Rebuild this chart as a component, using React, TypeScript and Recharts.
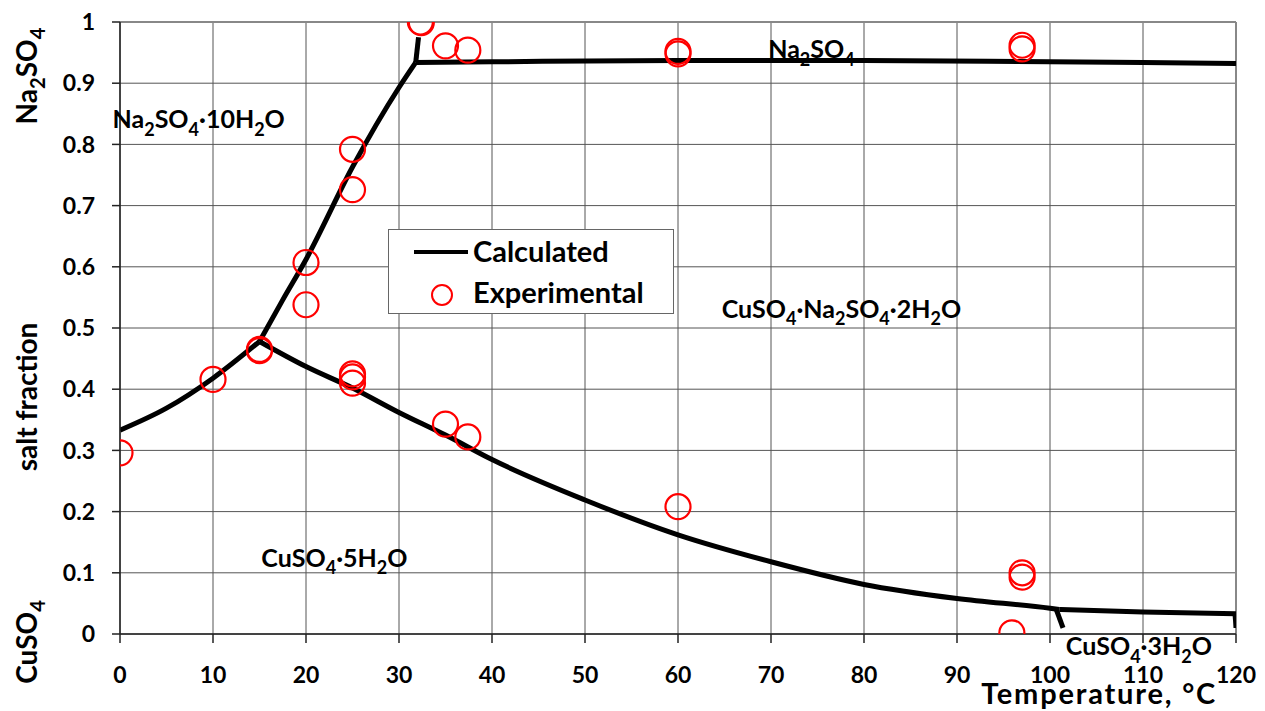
import React from "react";
import {
  CartesianGrid,
  ComposedChart,
  Legend,
  Line,
  ReferenceDot,
  ReferenceLine,
  Scatter,
  XAxis,
  YAxis,
} from "recharts";

const FONT = "Lato, 'Open Sans', sans-serif";
const RED = "#FF0000";

type Pt = { x: number; y: number };

const X_TICKS = [0, 10, 20, 30, 40, 50, 60, 70, 80, 90, 100, 110, 120];
const Y_TICKS = [0, 0.1, 0.2, 0.3, 0.4, 0.5, 0.6, 0.7, 0.8, 0.9, 1];

// calculated phase boundaries
const LOW_BRANCH: Pt[] = [
  { x: 0, y: 0.333 },
  { x: 5, y: 0.369 },
  { x: 10, y: 0.418 },
  { x: 15, y: 0.478 },
];
const DECAHYDRATE_EDGE: Pt[] = [
  { x: 15, y: 0.478 },
  { x: 17.5, y: 0.546 },
  { x: 20, y: 0.612 },
  { x: 25, y: 0.763 },
  { x: 30, y: 0.893 },
  { x: 31.8, y: 0.934 },
];
const DECAHYDRATE_STUB: Pt[] = [
  { x: 31.8, y: 0.934 },
  { x: 32.1, y: 0.975 },
];
const ANHYDROUS_EDGE: Pt[] = [
  { x: 31.8, y: 0.934 },
  { x: 40, y: 0.935 },
  { x: 60, y: 0.937 },
  { x: 80, y: 0.937 },
  { x: 100, y: 0.935 },
  { x: 110, y: 0.934 },
  { x: 120, y: 0.932 },
];
const PENTAHYDRATE_EDGE: Pt[] = [
  { x: 15, y: 0.478 },
  { x: 20, y: 0.437 },
  { x: 25, y: 0.402 },
  { x: 30, y: 0.362 },
  { x: 35, y: 0.325 },
  { x: 40, y: 0.285 },
  { x: 50, y: 0.219 },
  { x: 60, y: 0.162 },
  { x: 70, y: 0.118 },
  { x: 80, y: 0.081 },
  { x: 90, y: 0.058 },
  { x: 100, y: 0.042 },
  { x: 101, y: 0.04 },
];
const TRIHYDRATE_EDGE: Pt[] = [
  { x: 101, y: 0.04 },
  { x: 110, y: 0.036 },
  { x: 120, y: 0.033 },
];
const TRIHYDRATE_STUB: Pt[] = [
  { x: 100.7, y: 0.039 },
  { x: 101.4, y: 0.01 },
];
const RIGHT_STUB: Pt[] = [
  { x: 119.9, y: 0.033 },
  { x: 120, y: 0.01 },
];

// experimental points
const EXPERIMENTAL: Pt[] = [
  { x: 0, y: 0.296 },
  { x: 10, y: 0.416 },
  { x: 15, y: 0.463 },
  { x: 15, y: 0.465 },
  { x: 20, y: 0.607 },
  { x: 20, y: 0.538 },
  { x: 25, y: 0.792 },
  { x: 25, y: 0.726 },
  { x: 25, y: 0.425 },
  { x: 25, y: 0.42 },
  { x: 25, y: 0.41 },
  { x: 35, y: 0.343 },
  { x: 37.4, y: 0.322 },
  { x: 32.3, y: 1.0 },
  { x: 32.4, y: 0.999 },
  { x: 35, y: 0.961 },
  { x: 37.4, y: 0.954 },
  { x: 60, y: 0.952 },
  { x: 60, y: 0.948 },
  { x: 97, y: 0.962 },
  { x: 97, y: 0.956 },
  { x: 60, y: 0.208 },
  { x: 97, y: 0.1 },
  { x: 97, y: 0.093 },
  { x: 95.9, y: 0.002 },
];

const PHASE_LABELS = [
  { x: -0.8, y: 0.826, text: "Na2SO4·10H2O" },
  { x: 69.7, y: 0.941, text: "Na2SO4" },
  { x: 64.7, y: 0.517, text: "CuSO4·Na2SO4·2H2O" },
  { x: 15.2, y: 0.11, text: "CuSO4·5H2O" },
  { x: 101.7, y: -0.035, text: "CuSO4·3H2O" },
];

function chemParts(s: string) {
  const parts: { t: string; sub: boolean }[] = [];
  for (let i = 0; i < s.length; i++) {
    const c = s[i];
    const prev = i > 0 ? s[i - 1] : "";
    const last = parts[parts.length - 1];
    const sub = /\d/.test(c) && (/[A-Za-z]/.test(prev) || (!!last && last.sub));
    if (last && last.sub === sub) last.t += c;
    else parts.push({ t: c, sub });
  }
  return parts;
}

function ChemText({
  x,
  y,
  text,
  size,
  anchor = "start",
  transform,
}: {
  x: number;
  y: number;
  text: string;
  size: number;
  anchor?: "start" | "middle" | "end";
  transform?: string;
}) {
  const shift = size * 0.3;
  let cur = 0;
  return (
    <text
      x={x}
      y={y}
      fontSize={size}
      fontWeight="bold"
      fontFamily={FONT}
      fill="#000"
      textAnchor={anchor}
      transform={transform}
    >
      {chemParts(text).map((p, i) => {
        const target = p.sub ? shift : 0;
        const dy = target - cur;
        cur = target;
        return (
          <tspan key={i} dy={dy} fontSize={p.sub ? size * 0.72 : size}>
            {p.t}
          </tspan>
        );
      })}
    </text>
  );
}

const yTickFmt = (v: number) => (v === 0 ? "0" : v === 1 ? "1" : v.toFixed(1));

function YLabels(props: any) {
  const vb = props.viewBox || { x: 0, y: 22, width: 120, height: 612 };
  const cx = vb.x + 37;
  const rot = (cy: number) => `rotate(-90, ${cx}, ${cy})`;
  const a = vb.y + 54;
  const b = vb.y + 375;
  const c = vb.y + 620;
  return (
    <g>
      <ChemText x={cx} y={a} text="Na2SO4" size={28} anchor="middle" transform={rot(a)} />
      <ChemText x={cx} y={b} text="salt fraction" size={28} anchor="middle" transform={rot(b)} />
      <ChemText x={cx} y={c} text="CuSO4" size={28} anchor="middle" transform={rot(c)} />
    </g>
  );
}

function XLabel(props: any) {
  const vb = props.viewBox || { x: 120, y: 634, width: 1116, height: 77 };
  return (
    <text
      x={vb.x + vb.width - 19}
      y={vb.y + 70}
      textAnchor="end"
      fontSize={29}
      letterSpacing={1.8}
      fontWeight="bold"
      fontFamily={FONT}
      fill="#000"
    >
      Temperature, °C
    </text>
  );
}

function LegendBox() {
  return (
    <div
      style={{
        width: 286,
        height: 85,
        border: "1px solid #666",
        background: "#fff",
        fontFamily: FONT,
        fontWeight: "bold",
        fontSize: 29,
        color: "#000",
        boxSizing: "border-box",
        position: "relative",
      }}
    >
      <div style={{ position: "absolute", left: 25, top: 20, width: 54, height: 4, background: "#000" }} />
      <div style={{ position: "absolute", left: 84, top: 4, lineHeight: "34px" }}>Calculated</div>
      <div
        style={{
          position: "absolute",
          left: 42,
          top: 54,
          width: 18,
          height: 18,
          borderRadius: "50%",
          border: `2px solid ${RED}`,
        }}
      />
      <div style={{ position: "absolute", left: 84, top: 45, lineHeight: "34px" }}>Experimental</div>
    </div>
  );
}

const Ring = (props: any) => {
  const { cx, cy } = props;
  if (cx == null || cy == null) return null;
  return <circle cx={cx} cy={cy} r={12.5} fill="none" stroke={RED} strokeWidth={2.2} />;
};

const curve = (data: Pt[], key: string, type: "monotone" | "linear" = "monotone") => (
  <Line
    key={key}
    data={data}
    dataKey="y"
    type={type}
    stroke="#000"
    strokeWidth={5}
    dot={false}
    activeDot={false}
    legendType="none"
    isAnimationActive={false}
  />
);

export default function App() {
  return (
    <div style={{ position: "absolute", left: 0, top: 0, background: "#fff" }}>
      <ComposedChart width={1265} height={711} margin={{ top: 22, right: 29, bottom: 0, left: 0 }}>
        <CartesianGrid stroke="#555" strokeWidth={1} />
        <XAxis
          type="number"
          dataKey="x"
          domain={[0, 120]}
          ticks={X_TICKS}
          allowDataOverflow
          height={77}
          stroke="#222"
          strokeWidth={1.5}
          tickSize={9}
          tickMargin={24}
          tick={{ fontSize: 23, fontWeight: "bold", fontFamily: FONT, fill: "#000" }}
          label={<XLabel />}
        />
        <YAxis
          type="number"
          dataKey="y"
          domain={[0, 1]}
          ticks={Y_TICKS}
          allowDataOverflow
          width={120}
          stroke="#222"
          strokeWidth={1.5}
          tickSize={8}
          tickMargin={17}
          tickFormatter={yTickFmt}
          tick={{ fontSize: 23, fontWeight: "bold", fontFamily: FONT, fill: "#000" }}
          label={<YLabels />}
        />
        <ReferenceLine y={1} stroke="#888" strokeWidth={2} />
        <ReferenceLine x={120} stroke="#888" strokeWidth={2} />
        {curve(LOW_BRANCH, "low")}
        {curve(DECAHYDRATE_EDGE, "deca")}
        {curve(DECAHYDRATE_STUB, "decastub", "linear")}
        {curve(ANHYDROUS_EDGE, "anh")}
        {curve(PENTAHYDRATE_EDGE, "penta")}
        {curve(TRIHYDRATE_EDGE, "tri")}
        {curve(TRIHYDRATE_STUB, "tristub", "linear")}
        {curve(RIGHT_STUB, "rstub", "linear")}
        <Scatter data={EXPERIMENTAL} dataKey="y" shape={Ring} legendType="none" isAnimationActive={false} />
        {PHASE_LABELS.map((l) => (
          <ReferenceDot
            key={l.text}
            x={l.x}
            y={l.y}
            ifOverflow="visible"
            shape={(p: any) => <ChemText x={p.cx} y={p.cy} text={l.text} size={25} />}
          />
        ))}
        <Legend
          layout="horizontal"
          align="center"
          verticalAlign="middle"
          content={() => <LegendBox />}
          wrapperStyle={{ left: 388, top: 229, width: 286, height: 85 }}
        />
      </ComposedChart>
    </div>
  );
}
